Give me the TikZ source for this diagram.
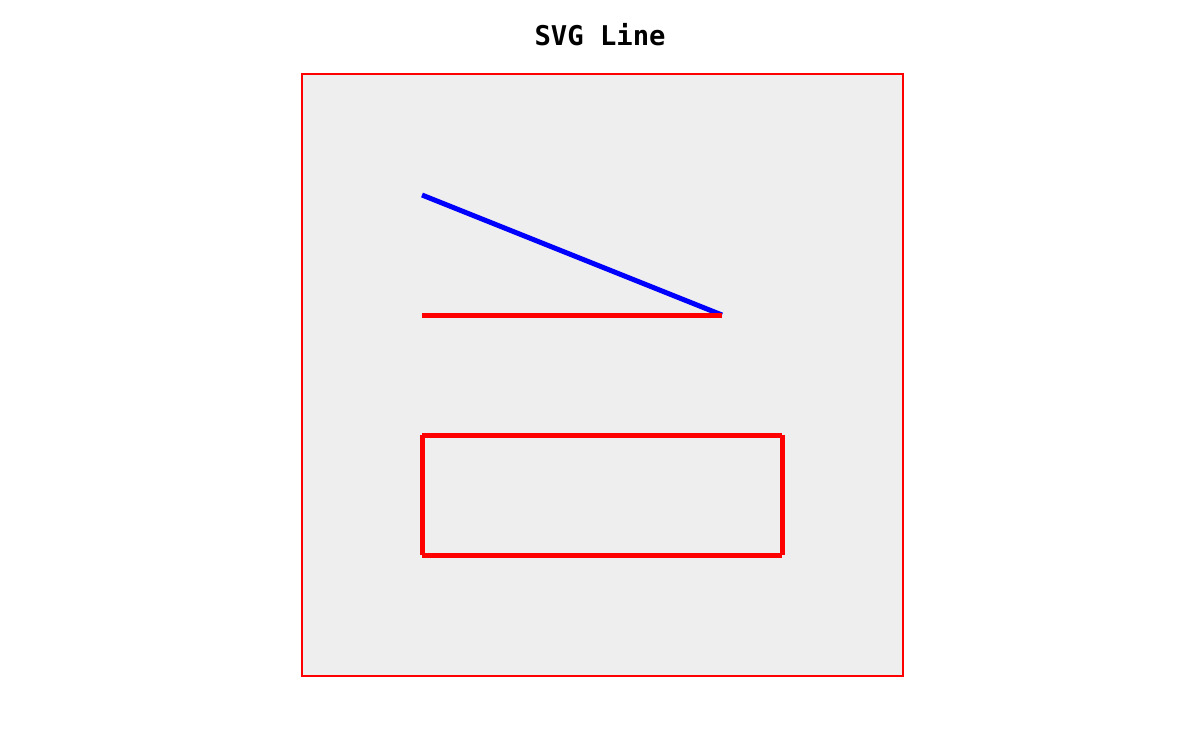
\documentclass[tikz,border=0pt]{standalone}
\usepackage{fontspec}
\newfontfamily\titlefont{DejaVu Sans Mono}
\usetikzlibrary{positioning}
\definecolor{panelgray}{HTML}{EEEEEE}

\begin{document}
\begin{tikzpicture}[x=0.75pt,y=-0.75pt,
  frame/.style={draw=red,fill=panelgray,line width=1.5pt},
  seg/.style={line width=3.75pt,line cap=butt},
  titletext/.style={font=\titlefont\bfseries\fontsize{20.4}{24}\selectfont,inner sep=0pt}]

 % ---- canvas ----
 \useasboundingbox (0,0) rectangle (1195,739);
 \node[titletext] (title) at (600,34.5) {SVG Line};
 \draw[frame] (301.5,74) rectangle (902.5,675.5);

 % ---- the two lines ----
 \coordinate (p1) at (422,195);
 \coordinate (p2) at (722,315);
 \coordinate (p3) at (422,315);
 \draw[seg,blue] (p1) -- (p2);
 \draw[seg,red] (p3) -- (p2);

 % ---- box from four lines ----
 \coordinate (r1) at (422,435);
 \coordinate (r2) at (782,435);
 \coordinate (r3) at (782,555);
 \coordinate (r4) at (422,555);
 \draw[seg,red] (r1) -- (r2);
 \draw[seg,red] (r2) -- (r3);
 \draw[seg,red] (r3) -- (r4);
 \draw[seg,red] (r4) -- (r1);
\end{tikzpicture}
\end{document}
